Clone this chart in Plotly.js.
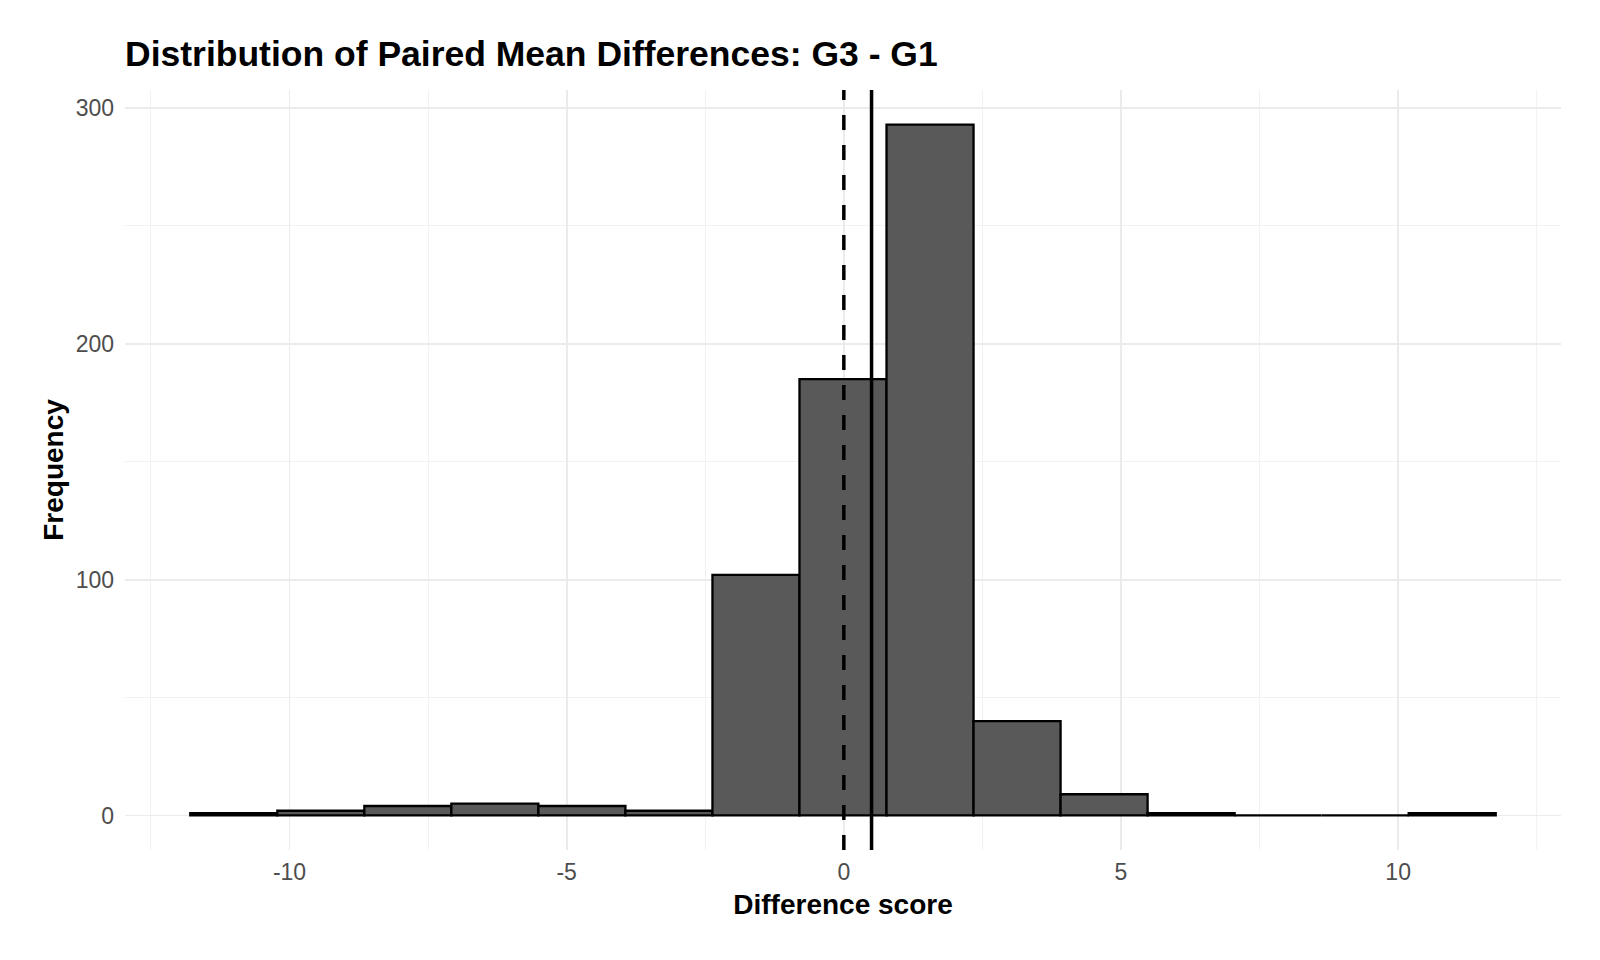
<!DOCTYPE html>
<html>
<head>
<meta charset="utf-8">
<script src="https://cdn.plot.ly/plotly-3.0.1.min.js"></script>
<style>html,body{margin:0;padding:0;background:#fff;}#chart{width:1600px;height:960px;}</style>
</head>
<body>
<div id="chart"></div>
<script>
// Histogram bin edges (difference score) and counts
const binEdges = [-11.79, -10.22, -8.65, -7.08, -5.51, -3.94, -2.37, -0.80, 0.77, 2.34, 3.91, 5.48, 7.05, 8.62, 10.19, 11.76];
const binCounts = [1, 2, 4, 5, 4, 2, 102, 185, 293, 40, 9, 1, 0, 0, 1];
// Reference lines: zero (dashed) and mean difference (solid)
const zeroLine = 0;
const meanDiff = 0.5;
const xTickVals = [-10, -5, 0, 5, 10];
const yTickVals = [0, 100, 200, 300];

const centers = binCounts.map((_, i) => (binEdges[i] + binEdges[i + 1]) / 2);
const widths = binCounts.map((_, i) => binEdges[i + 1] - binEdges[i]);

const xmin = binEdges[0], xmax = binEdges[binEdges.length - 1];
const xpad = (xmax - xmin) * 0.05;
const ymax = Math.max(...binCounts);
const ypad = ymax * 0.05;

const font = "Liberation Sans, Arial, Helvetica, sans-serif";

const trace = {
  type: 'bar',
  x: centers,
  y: binCounts,
  width: widths,
  marker: { color: '#595959', line: { color: '#000000', width: 2.3 } },
  hoverinfo: 'x+y'
};

const layout = {
  width: 1600, height: 960,
  paper_bgcolor: '#ffffff', plot_bgcolor: '#ffffff',
  margin: { l: 125, r: 39, t: 90, b: 110 },
  showlegend: false,
  bargap: 0,
  title: {
    text: '<b>Distribution of Paired Mean Differences: G3 - G1</b>',
    font: { family: font, size: 35.5, color: '#000000' },
    x: 125 / 1600, xanchor: 'left', xref: 'container',
    y: 1 - 54 / 960, yanchor: 'middle', yref: 'container'
  },
  xaxis: {
    range: [xmin - xpad, xmax + xpad],
    tickvals: xTickVals,
    ticktext: xTickVals.map(String),
    showgrid: true, gridcolor: '#ebebeb', gridwidth: 1.8,
    minor: { dtick: 2.5, showgrid: true, gridcolor: '#f2f2f2', gridwidth: 1 },
    zeroline: false, showline: false, ticks: '',
    ticklabelstandoff: 6,
    tickfont: { family: font, size: 23, color: '#4d4d4d' },
    title: { text: '<b>Difference score</b>', font: { family: font, size: 28, color: '#000000' }, standoff: 10 }
  },
  yaxis: {
    range: [-ypad, ymax + ypad],
    tickvals: yTickVals,
    ticktext: yTickVals.map(String),
    showgrid: true, gridcolor: '#ebebeb', gridwidth: 1.8,
    minor: { dtick: 50, showgrid: true, gridcolor: '#f2f2f2', gridwidth: 1 },
    zeroline: false, showline: false, ticks: '',
    ticklabelstandoff: 10,
    tickfont: { family: font, size: 23, color: '#4d4d4d' },
    title: { text: '<b>Frequency</b>', font: { family: font, size: 28, color: '#000000' }, standoff: 3 }
  },
  shapes: [
    { type: 'line', xref: 'x', yref: 'paper', x0: zeroLine, x1: zeroLine, y0: 0, y1: 1,
      line: { color: '#000000', width: 3.5, dash: '15px,15px' } },
    { type: 'line', xref: 'x', yref: 'paper', x0: meanDiff, x1: meanDiff, y0: 0, y1: 1,
      line: { color: '#000000', width: 3.5 } }
  ]
};

Plotly.newPlot('chart', [trace], layout, { displayModeBar: false, staticPlot: true });
</script>
</body>
</html>
